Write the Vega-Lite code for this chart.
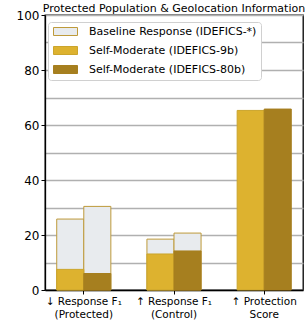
{
  "$schema": "https://vega.github.io/schema/vega-lite/v6.json",
  "width": 258,
  "height": 275,
  "autosize": {"type": "none"},
  "padding": {"left": 45, "top": 15, "right": 4, "bottom": 34},
  "view": {"stroke": "#000000", "strokeWidth": 1.3},
  "title": {"text": "Protected Population & Geolocation Information", "fontSize": 11, "fontWeight": "normal", "font": "DejaVu Sans", "color": "#000", "offset": -5, "anchor": "middle"},
  "config": {
    "font": "DejaVu Sans"
  },
  "data": {
    "values": [
      {"group": "↓ Response F₁|(Protected)", "model": "9b", "series": "Baseline Response (IDEFICS-*)", "value": 25.8},
      {"group": "↓ Response F₁|(Protected)", "model": "80b", "series": "Baseline Response (IDEFICS-*)", "value": 30.4},
      {"group": "↑ Response F₁|(Control)", "model": "9b", "series": "Baseline Response (IDEFICS-*)", "value": 18.5},
      {"group": "↑ Response F₁|(Control)", "model": "80b", "series": "Baseline Response (IDEFICS-*)", "value": 20.7},
      {"group": "↓ Response F₁|(Protected)", "model": "9b", "series": "Self-Moderate (IDEFICS-9b)", "value": 7.5},
      {"group": "↓ Response F₁|(Protected)", "model": "80b", "series": "Self-Moderate (IDEFICS-80b)", "value": 6.0},
      {"group": "↑ Response F₁|(Control)", "model": "9b", "series": "Self-Moderate (IDEFICS-9b)", "value": 13.1},
      {"group": "↑ Response F₁|(Control)", "model": "80b", "series": "Self-Moderate (IDEFICS-80b)", "value": 14.2},
      {"group": "↑ Protection|Score", "model": "9b", "series": "Self-Moderate (IDEFICS-9b)", "value": 65.3},
      {"group": "↑ Protection|Score", "model": "80b", "series": "Self-Moderate (IDEFICS-80b)", "value": 65.8}
    ]
  },
  "mark": {"type": "bar", "strokeWidth": 1},
  "encoding": {
    "x": {
      "field": "group", "type": "nominal", "sort": null,
      "scale": {"paddingInner": 0.4, "paddingOuter": 0.13},
      "axis": {
        "title": null, "labelAngle": 0, "labelExpr": "split(datum.label, '|')",
        "labelFontSize": 10.5, "labelColor": "#000", "labelLineHeight": 13,
        "domainColor": "#000", "domainWidth": 1.3, "tickColor": "#000", "tickSize": 4, "labelPadding": 2,
        "grid": false
      }
    },
    "xOffset": {
      "field": "model", "type": "nominal",
      "scale": {"domain": ["9b", "80b"], "paddingInner": 0, "paddingOuter": 0}
    },
    "y": {
      "field": "value", "type": "quantitative", "stack": null,
      "scale": {"domain": [0, 100], "nice": false},
      "axis": {
        "title": null,
        "values": [0, 10, 20, 30, 40, 50, 60, 70, 80, 90, 100],
        "labelExpr": "datum.value % 20 == 0 ? datum.label : ''",
        "labelFontSize": 12, "labelColor": "#000",
        "domainColor": "#000", "domainWidth": 1.3,
        "tickColor": {"condition": {"test": "datum.value % 20 == 0", "value": "#000000"}, "value": "transparent"},
        "tickSize": 4,
        "grid": true, "gridColor": "#b0b0b0", "gridWidth": 1.3
      }
    },
    "fill": {
      "field": "series", "type": "nominal",
      "scale": {
        "domain": ["Baseline Response (IDEFICS-*)", "Self-Moderate (IDEFICS-9b)", "Self-Moderate (IDEFICS-80b)"],
        "range": ["#E8EBEE", "#DDB22F", "#A67F1F"]
      },
      "legend": {
        "title": null, "orient": "none", "legendX": 3, "legendY": 7,
        "fillColor": "#ffffff", "strokeColor": "#d0d0d0", "cornerRadius": 3,
        "padding": 4, "labelFontSize": 11, "labelColor": "#000", "labelOffset": 26,
        "labelLimit": 400, "rowPadding": 6,
        "symbolType": "M-1,-1L5,-1L5,1L-1,1Z", "symbolSize": 64,
        "symbolStrokeWidth": 1, "symbolOpacity": 1
      }
    },
    "stroke": {
      "field": "series", "type": "nominal",
      "scale": {
        "domain": ["Baseline Response (IDEFICS-*)", "Self-Moderate (IDEFICS-9b)", "Self-Moderate (IDEFICS-80b)"],
        "range": ["#BE9A3A", "#CBA52C", "#A67F1F"]
      },
      "legend": {
        "title": null, "orient": "none", "legendX": 3, "legendY": 7,
        "fillColor": "#ffffff", "strokeColor": "#d0d0d0", "cornerRadius": 3,
        "padding": 4, "labelFontSize": 11, "labelColor": "#000", "labelOffset": 26,
        "labelLimit": 400, "rowPadding": 6,
        "symbolType": "M-1,-1L5,-1L5,1L-1,1Z", "symbolSize": 64,
        "symbolStrokeWidth": 1, "symbolOpacity": 1
      }
    }
  }
}
